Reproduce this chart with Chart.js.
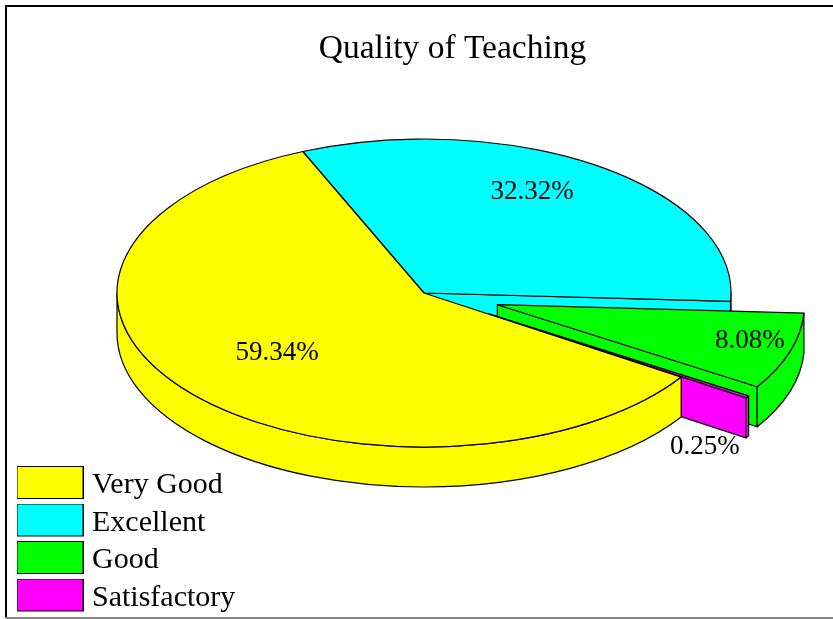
<!DOCTYPE html>
<html>
<head>
<meta charset="utf-8">
<style>html,body{margin:0;padding:0;background:#fff}canvas{display:block}</style>
<script src="https://cdn.jsdelivr.net/npm/chart.js@4"></script>
</head>
<body>
<canvas id="c" width="833" height="619"></canvas>
<script>
const categories = ['Very Good', 'Excellent', 'Good', 'Satisfactory'];
const values = [59.34, 32.32, 8.08, 0.25];
const colors = ['#ffff00', '#00ffff', '#00ff00', '#ff00ff'];
const explode = [0, 0, 77, 77];
const labelShift = [[-147, 59.5], [108, -101], [252.6, 36], [216, 133.5]];
const paintOrder = [1, 2, 3, 0];

const FONT = '"Liberation Serif", "Times New Roman", serif';
const CENTER = { x: 424, y: 293 };
const SQUASH = 154 / 307;
const DEPTH = 40;

function swatch(color) {
  const s = document.createElement('canvas');
  s.width = 67; s.height = 39;
  const g = s.getContext('2d');
  g.fillStyle = color; g.fillRect(0, 0, 67, 33);
  g.strokeStyle = '#000'; g.lineWidth = 1; g.strokeRect(0.5, 0.5, 66, 32);
  return s;
}

const pie3d = {
  id: 'pie3d',
  beforeDraw(chart) {
    const ctx = chart.ctx;
    ctx.save();
    ctx.fillStyle = '#fff'; ctx.fillRect(0, 0, 833, 619);
    ctx.fillStyle = '#000';
    ctx.fillRect(5, 5, 828, 2);
    ctx.fillRect(5, 5, 2, 613);
    ctx.fillStyle = '#888';
    ctx.fillRect(5, 617, 828, 2);
    ctx.restore();
  },
  afterLayout(chart) {
    const l = chart.legend;
    const w = l.width, h = l.height;
    l.left = 15.5; l.right = l.left + w;
    l.top = 463; l.bottom = l.top + h;
  },
  beforeDatasetsDraw(chart) {
    const ctx = chart.ctx;
    const arcs = chart.getDatasetMeta(0).data;
    const R = arcs[0].outerRadius;
    const Ry = R * SQUASH;
    const apexOf = (i) => {
      const a = arcs[i];
      const mid = (a.startAngle + a.endAngle) / 2;
      return { x: CENTER.x + Math.cos(mid) * explode[i], y: CENTER.y + Math.sin(mid) * explode[i] * SQUASH };
    };
    ctx.save();
    ctx.strokeStyle = '#000';
    ctx.lineWidth = 1.2;
    ctx.lineJoin = 'round';
    for (const i of paintOrder) {
      const a = arcs[i];
      const p = apexOf(i);
      const s = a.startAngle, e = a.endAngle;
      ctx.fillStyle = colors[i];
      const face = (ang) => {
        const ox = p.x + R * Math.cos(ang), oy = p.y + Ry * Math.sin(ang);
        ctx.beginPath();
        ctx.moveTo(p.x, p.y); ctx.lineTo(ox, oy);
        ctx.lineTo(ox, oy + DEPTH); ctx.lineTo(p.x, p.y + DEPTH);
        ctx.closePath(); ctx.fill(); ctx.stroke();
      };
      if (-Math.cos(s) > 0) face(s);
      if (Math.cos(e) > 0) face(e);
      for (let k = 0; k < 2; k++) {
        const from = Math.max(s, k * 2 * Math.PI), to = Math.min(e, k * 2 * Math.PI + Math.PI);
        if (to <= from) continue;
        ctx.beginPath();
        ctx.ellipse(p.x, p.y, R, Ry, 0, from, to);
        ctx.ellipse(p.x, p.y + DEPTH, R, Ry, 0, to, from, true);
        ctx.closePath(); ctx.fill(); ctx.stroke();
      }
      ctx.save();
      ctx.translate(p.x, p.y);
      ctx.scale(1, SQUASH);
      ctx.translate(-a.x, -a.y);
      a.draw(ctx);
      ctx.restore();
      ctx.beginPath();
      ctx.moveTo(p.x, p.y);
      ctx.ellipse(p.x, p.y, R, Ry, 0, s, e);
      ctx.closePath();
      ctx.stroke();
    }
    ctx.fillStyle = '#000';
    ctx.font = '27px ' + FONT;
    ctx.textAlign = 'center';
    ctx.textBaseline = 'middle';
    values.forEach((v, i) => {
      const p = apexOf(i);
      ctx.fillText(v.toFixed(2) + '%', p.x + labelShift[i][0], p.y + labelShift[i][1]);
    });
    ctx.restore();
    return false;
  }
};

new Chart(document.getElementById('c'), {
  type: 'pie',
  data: {
    labels: categories,
    datasets: [{ data: values, backgroundColor: colors, borderWidth: 0 }]
  },
  options: {
    responsive: false,
    animation: false,
    rotation: 123.1,
    radius: 307,
    layout: { padding: { left: 72 } },
    plugins: {
      tooltip: { enabled: false },
      title: {
        display: true,
        text: 'Quality of Teaching',
        color: '#000',
        font: { family: FONT, size: 33.5, weight: 'normal', lineHeight: 1.2 },
        padding: { top: 29, bottom: 10 }
      },
      legend: {
        position: 'left',
        align: 'start',
        labels: {
          usePointStyle: true,
          pointStyleWidth: 54,
          boxHeight: 30,
          padding: 7.5,
          color: '#000',
          font: { family: FONT, size: 30 },
          generateLabels() {
            return categories.map((text, i) => ({
              text,
              index: i,
              hidden: false,
              fillStyle: colors[i],
              strokeStyle: '#000',
              lineWidth: 1,
              fontColor: '#000',
              pointStyle: swatch(colors[i])
            }));
          }
        }
      }
    }
  },
  plugins: [pie3d]
});
</script>
</body>
</html>
